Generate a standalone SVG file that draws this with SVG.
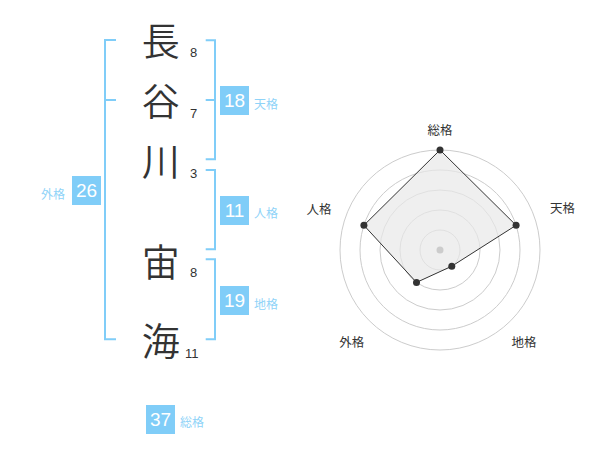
<svg xmlns="http://www.w3.org/2000/svg" width="600" height="470" viewBox="0 0 600 470">
<style>
.kanji{font-family:"Noto Sans CJK JP","Noto Sans CJK SC",sans-serif;font-size:38px;font-weight:350;fill:#333;text-anchor:middle}
.stroke{font-family:"Liberation Sans",Arial,sans-serif;font-size:13px;fill:#333}
.box{fill:#80cdf8}
.boxnum{font-family:"Liberation Sans",Arial,sans-serif;font-size:19px;fill:#fff;text-anchor:middle}
.blabel{font-family:"Noto Sans CJK JP","Noto Sans CJK SC",sans-serif;font-size:12px;fill:#8fd3f8}
.br{fill:none;stroke:#80cdf8;stroke-width:2}
.ring{fill:none;stroke:#ccc;stroke-width:1}
.rlabel{font-family:"Noto Sans CJK JP","Noto Sans CJK SC",sans-serif;font-size:12.5px;fill:#333;text-anchor:middle}
.pt{fill:#333}
</style>
<rect width="600" height="470" fill="#fff"/>
<g id="connectors">
<path class="br" d="M116,40 H105 V339.3 H116 M105,100 H116"/>
<path class="br" d="M205.7,40.3 H215 V159.3 H205.7 M205.7,100 H215"/>
<path class="br" d="M205.7,170 H215 V249.3 H205.7"/>
<path class="br" d="M205.7,259.3 H215 V339.3 H205.7"/>
</g>
<g id="char-1"><text class="kanji" x="160.7" y="55">長</text><text class="stroke" x="190" y="56.7">8</text></g>
<g id="char-2"><text class="kanji" x="160.7" y="115">谷</text><text class="stroke" x="190" y="117.5">7</text></g>
<g id="char-3"><text class="kanji" x="160.7" y="175">川</text><text class="stroke" x="190" y="177.5">3</text></g>
<g id="char-4"><text class="kanji" x="160.7" y="276">宙</text><text class="stroke" x="190" y="277.3">8</text></g>
<g id="char-5"><text class="kanji" x="160.7" y="355">海</text><text class="stroke" x="185" y="358">11</text></g>
<g id="tenkaku"><rect class="box" x="220" y="86" width="29" height="29"/><text class="boxnum" x="234.5" y="107.3">18</text><text class="blabel" x="254" y="108.5">天格</text></g>
<g id="jinkaku"><rect class="box" x="220" y="196" width="29" height="29"/><text class="boxnum" x="234.5" y="217.3">11</text><text class="blabel" x="254" y="217.8">人格</text></g>
<g id="chikaku"><rect class="box" x="220" y="286" width="29" height="29"/><text class="boxnum" x="234.5" y="307.3">19</text><text class="blabel" x="254" y="308.5">地格</text></g>
<g id="gaikaku"><rect class="box" x="72" y="176" width="29" height="29"/><text class="boxnum" x="86.5" y="197.3">26</text><text class="blabel" x="65" y="198.5" text-anchor="end">外格</text></g>
<g id="soukaku"><rect class="box" x="146" y="405" width="29" height="29"/><text class="boxnum" x="160.5" y="426.3">37</text><text class="blabel" x="180" y="427">総格</text></g>
<g id="radar">
<circle class="ring" cx="440" cy="250" r="20"/>
<circle class="ring" cx="440" cy="250" r="40"/>
<circle class="ring" cx="440" cy="250" r="60"/>
<circle class="ring" cx="440" cy="250" r="80"/>
<circle class="ring" cx="440" cy="250" r="100"/>
<polygon points="440,150 516.1,225.3 451.8,266.2 416.5,282.4 363.9,225.3" fill="#e8e8e8" fill-opacity="0.7" stroke="#333" stroke-width="1"/>
<circle cx="440" cy="250" r="3.5" fill="#ccc"/>
<circle class="pt" cx="440" cy="150" r="3.5"/>
<circle class="pt" cx="516.1" cy="225.3" r="3.5"/>
<circle class="pt" cx="451.8" cy="266.2" r="3.5"/>
<circle class="pt" cx="416.5" cy="282.4" r="3.5"/>
<circle class="pt" cx="363.9" cy="225.3" r="3.5"/>
<text class="rlabel" x="440" y="134.5">総格</text>
<text class="rlabel" x="562.5" y="212.5">天格</text>
<text class="rlabel" x="319" y="213.5">人格</text>
<text class="rlabel" x="351.7" y="346.5">外格</text>
<text class="rlabel" x="524" y="346.5">地格</text>
</g>
</svg>
